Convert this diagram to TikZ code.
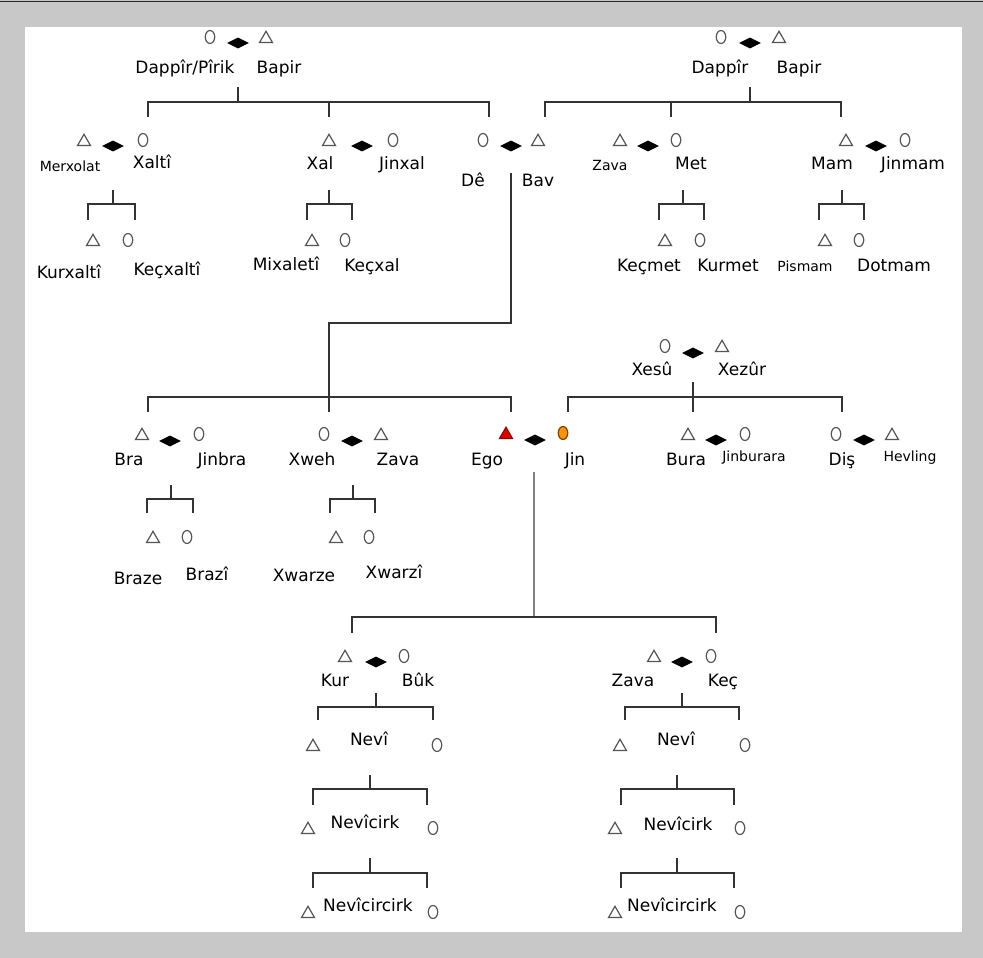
\documentclass[tikz,border=0pt]{standalone}
\usepackage{fontspec}
\setmainfont{DejaVu Sans}
\usetikzlibrary{shapes.geometric}
\definecolor{framegray}{HTML}{C8C8C8}
\definecolor{symgray}{HTML}{555555}
\definecolor{kingray}{HTML}{333333}
\tikzset{
  man/.style={regular polygon, regular polygon sides=3, draw=symgray, line width=1.2pt, minimum size=15pt, inner sep=0pt, yshift=-1.8pt},
  woman/.style={ellipse, draw=symgray, line width=1.2pt, minimum width=9.5pt, minimum height=13pt, inner sep=0pt},
  wed/.style={diamond, fill=black, minimum width=22pt, minimum height=11pt, inner sep=0pt},
  lbl/.style={inner sep=0pt, text height=1.5ex, text depth=.25ex, font=\fontsize{17}{19}\selectfont},
  lbls/.style={lbl, font=\fontsize{14}{16}\selectfont},
  kin/.style={draw=kingray, line width=1.3pt},
}
\begin{document}
\begin{tikzpicture}[x=1pt,y=-1pt]
            \useasboundingbox (0,0) rectangle (983,958);
            \fill[framegray] (0,0) rectangle (983,958);
            \fill[white] (25,27) rectangle (962,932);
            \draw[black!85, line width=1.5pt] (0,1.5) -- (983,1.5);

            % grandparents, left
            \node[woman] (dapL) at (210,37) {};
            \node[wed] (wedL) at (238,43) {};
            \node[man] (bapL) at (266,37) {};
            \node[lbl] (dapLt) at (185,70) {Dappîr/Pîrik};
            \node[lbl] (bapLt) at (279,70) {Bapir};
            \coordinate (tL) at (238,87); \coordinate (bL) at (238,102);
            \coordinate (dL1) at (148,117); \coordinate (dL2) at (329,117); \coordinate (dL3) at (489,117);
            \draw[kin] (tL) -- (bL);
            \draw[kin] (dL1) |- (bL) -| (dL3);
            \draw[kin] (dL2) -- (dL2 |- bL);

            % grandparents, right
            \node[woman] (dapR) at (721,37) {};
            \node[wed] (wedR) at (750,43) {};
            \node[man] (bapR) at (779,37) {};
            \node[lbl] (dapRt) at (720,70) {Dappîr};
            \node[lbl] (bapRt) at (799,70) {Bapir};
            \coordinate (tR) at (750,87); \coordinate (bR) at (750,102);
            \coordinate (dR1) at (545,117); \coordinate (dR2) at (671,117); \coordinate (dR3) at (841,117);
            \draw[kin] (tR) -- (bR);
            \draw[kin] (dR1) |- (bR) -| (dR3);
            \draw[kin] (dR2) -- (dR2 |- bR);

            % Merxolat and Xaltî
            \node[man] (merx) at (84,140) {};
            \node[wed] (wedMx) at (113,146) {};
            \node[woman] (xalti) at (143,140) {};
            \node[lbls] (merxt) at (70,168) {Merxolat};
            \node[lbl] (xaltit) at (152,165) {Xaltî};
            \coordinate (tMx) at (113,190); \coordinate (bMx) at (113,204);
            \coordinate (dMx1) at (88,220); \coordinate (dMx2) at (135,220);
            \draw[kin] (tMx) -- (bMx);
            \draw[kin] (dMx1) |- (bMx) -| (dMx2);
            \node[man] (kurx) at (93,240) {};
            \node[woman] (kecx) at (128,240) {};
            \node[lbl] (kurxt) at (69,275) {Kurxaltî};
            \node[lbl] (kecxt) at (167,272) {Keçxaltî};

            % Xal and Jinxal
            \node[man] (xal) at (329,140) {};
            \node[wed] (wedXl) at (362,146) {};
            \node[woman] (jinxal) at (393,140) {};
            \node[lbl] (xalt) at (320,166) {Xal};
            \node[lbl] (jinxalt) at (402,166) {Jinxal};
            \coordinate (tXl) at (329,190); \coordinate (bXl) at (329,204);
            \coordinate (dXl1) at (307,220); \coordinate (dXl2) at (352,220);
            \draw[kin] (tXl) -- (bXl);
            \draw[kin] (dXl1) |- (bXl) -| (dXl2);
            \node[man] (mixal) at (312,240) {};
            \node[woman] (kecxal) at (345,240) {};
            \node[lbl] (mixalt) at (286,267) {Mixaletî};
            \node[lbl] (kecxalt) at (372,268) {Keçxal};

            % Dê and Bav
            \node[woman] (de) at (483,140) {};
            \node[wed] (wedDB) at (511,146) {};
            \node[man] (bav) at (538,140) {};
            \node[lbl] (det) at (473,183) {Dê};
            \node[lbl] (bavt) at (538,183) {Bav};

            % Zava and Met
            \node[man] (zavaM) at (620,140) {};
            \node[wed] (wedMt) at (648,146) {};
            \node[woman] (met) at (676,140) {};
            \node[lbls] (zavaMt) at (610,167) {Zava};
            \node[lbl] (mett) at (691,166) {Met};
            \coordinate (tMt) at (683,190); \coordinate (bMt) at (683,204);
            \coordinate (dMt1) at (659,220); \coordinate (dMt2) at (704,220);
            \draw[kin] (tMt) -- (bMt);
            \draw[kin] (dMt1) |- (bMt) -| (dMt2);
            \node[man] (kecm) at (665,240) {};
            \node[woman] (kurm) at (700,240) {};
            \node[lbl] (kecmt) at (649,268) {Keçmet};
            \node[lbl] (kurmt) at (728,268) {Kurmet};

            % Mam and Jinmam
            \node[man] (mam) at (846,140) {};
            \node[wed] (wedMm) at (876,146) {};
            \node[woman] (jinmam) at (905,140) {};
            \node[lbl] (mamt) at (832,166) {Mam};
            \node[lbl] (jinmamt) at (913,166) {Jinmam};
            \coordinate (tMm) at (842,190); \coordinate (bMm) at (842,204);
            \coordinate (dMm1) at (819,220); \coordinate (dMm2) at (864,220);
            \draw[kin] (tMm) -- (bMm);
            \draw[kin] (dMm1) |- (bMm) -| (dMm2);
            \node[man] (pism) at (825,240) {};
            \node[woman] (dotm) at (859,240) {};
            \node[lbls] (pismt) at (805,268) {Pismam};
            \node[lbl] (dotmt) at (894,268) {Dotmam};

            % Xesû and Xezûr
            \node[woman] (xesu) at (665,346) {};
            \node[wed] (wedXs) at (693,353) {};
            \node[man] (xezur) at (722,346) {};
            \node[lbl] (xesut) at (652,372) {Xesû};
            \node[lbl] (xezurt) at (742,372) {Xezûr};
            \coordinate (tXs) at (693,382); \coordinate (bXs) at (693,397);
            \coordinate (dXs1) at (568,412); \coordinate (dXs2) at (693,412); \coordinate (dXs3) at (842,412);
            \draw[kin] (tXs) -- (dXs2);
            \draw[kin] (dXs1) |- (bXs) -| (dXs3);

            % children of Dê and Bav
            \coordinate (tDB) at (511,173); \coordinate (kDB) at (329,323); \coordinate (bDB) at (329,397);
            \coordinate (dDB1) at (148,412); \coordinate (dDB2) at (329,412); \coordinate (dDB3) at (511,412);
            \draw[kin] (tDB) |- (kDB) -- (dDB2);
            \draw[kin] (dDB1) |- (bDB) -| (dDB3);

            % Bra and Jinbra
            \node[man] (bra) at (142,434) {};
            \node[wed] (wedBr) at (170,441) {};
            \node[woman] (jinbra) at (199,434) {};
            \node[lbl] (brat) at (129,462) {Bra};
            \node[lbl] (jinbrat) at (222,462) {Jinbra};
            \coordinate (tBr) at (171,485); \coordinate (bBr) at (171,499);
            \coordinate (dBr1) at (147,513); \coordinate (dBr2) at (193,513);
            \draw[kin] (tBr) -- (bBr);
            \draw[kin] (dBr1) |- (bBr) -| (dBr2);
            \node[man] (braze) at (153,537) {};
            \node[woman] (brazi) at (187,537) {};
            \node[lbl] (brazet) at (138,581) {Braze};
            \node[lbl] (brazit) at (207,577) {Brazî};

            % Xweh and Zava
            \node[woman] (xweh) at (324,434) {};
            \node[wed] (wedXw) at (352,441) {};
            \node[man] (zavaX) at (381,434) {};
            \node[lbl] (xweht) at (312,462) {Xweh};
            \node[lbl] (zavaXt) at (398,462) {Zava};
            \coordinate (tXw) at (353,485); \coordinate (bXw) at (353,499);
            \coordinate (dXw1) at (330,513); \coordinate (dXw2) at (375,513);
            \draw[kin] (tXw) -- (bXw);
            \draw[kin] (dXw1) |- (bXw) -| (dXw2);
            \node[man] (xwarze) at (336,537) {};
            \node[woman] (xwarzi) at (369,537) {};
            \node[lbl] (xwarzet) at (304,578) {Xwarze};
            \node[lbl] (xwarzit) at (394,575) {Xwarzî};

            % Ego and Jin
            \node[man, draw=red!60!black, fill=red!90!black] (ego) at (506,433) {};
            \node[wed] (wedEg) at (535,440) {};
            \node[woman, draw=orange!50!black, fill=orange!85!yellow] (jin) at (563,433) {};
            \node[lbl] (egot) at (487,462) {Ego};
            \node[lbl] (jint) at (575,462) {Jin};
            \coordinate (tEg) at (534,472); \coordinate (bEg) at (534,617);
            \coordinate (dEg1) at (352,633); \coordinate (dEg2) at (716,633);
            \draw[kin, draw=gray] (tEg) -- (bEg);
            \draw[kin] (dEg1) |- (bEg) -| (dEg2);

            % Bura and Jinburara
            \node[man] (bura) at (688,434) {};
            \node[wed] (wedBu) at (716,440) {};
            \node[woman] (jinbu) at (745,434) {};
            \node[lbl] (burat) at (686,462) {Bura};
            \node[lbls] (jinbut) at (754,458) {Jinburara};

            % Diş and Hevling
            \node[woman] (dis) at (836,434) {};
            \node[wed] (wedDs) at (864,440) {};
            \node[man] (hevl) at (892,434) {};
            \node[lbl] (dist) at (842,462) {Diş};
            \node[lbls] (hevlt) at (910,458) {Hevling};

            % Kur and Bûk
            \node[man] (kur) at (345,656) {};
            \node[wed] (wedKr) at (376,662) {};
            \node[woman] (buk) at (404,656) {};
            \node[lbl] (kurt) at (335,683) {Kur};
            \node[lbl] (bukt) at (418,683) {Bûk};
            \coordinate (tKr) at (376,693); \coordinate (bKr) at (376,707);
            \coordinate (dKr1) at (318,720); \coordinate (dKr2) at (433,720);
            \draw[kin] (tKr) -- (bKr);
            \draw[kin] (dKr1) |- (bKr) -| (dKr2);
            \node[man] (nvL1) at (313,745) {};
            \node[lbl] (nvL1t) at (369,742) {Nevî};
            \node[woman] (nvL1o) at (437,745) {};
            \coordinate (tNL1) at (370,775); \coordinate (bNL1) at (370,789);
            \coordinate (dNL1a) at (313,805); \coordinate (dNL1b) at (427,805);
            \draw[kin] (tNL1) -- (bNL1);
            \draw[kin] (dNL1a) |- (bNL1) -| (dNL1b);
            \node[man] (nvL2) at (308,828) {};
            \node[lbl] (nvL2t) at (365,825) {Nevîcirk};
            \node[woman] (nvL2o) at (433,828) {};
            \coordinate (tNL2) at (370,858); \coordinate (bNL2) at (370,873);
            \coordinate (dNL2a) at (313,888); \coordinate (dNL2b) at (427,888);
            \draw[kin] (tNL2) -- (bNL2);
            \draw[kin] (dNL2a) |- (bNL2) -| (dNL2b);
            \node[man] (nvL3) at (308,912) {};
            \node[lbl] (nvL3t) at (368,908) {Nevîcircirk};
            \node[woman] (nvL3o) at (433,912) {};

            % Zava and Keç
            \node[man] (zavaK) at (654,656) {};
            \node[wed] (wedKc) at (682,662) {};
            \node[woman] (kec) at (711,656) {};
            \node[lbl] (zavaKt) at (633,683) {Zava};
            \node[lbl] (kect) at (723,683) {Keç};
            \coordinate (tKc) at (682,693); \coordinate (bKc) at (682,707);
            \coordinate (dKc1) at (625,720); \coordinate (dKc2) at (739,720);
            \draw[kin] (tKc) -- (bKc);
            \draw[kin] (dKc1) |- (bKc) -| (dKc2);
            \node[man] (nvR1) at (620,745) {};
            \node[lbl] (nvR1t) at (676,742) {Nevî};
            \node[woman] (nvR1o) at (745,745) {};
            \coordinate (tNR1) at (677,775); \coordinate (bNR1) at (677,789);
            \coordinate (dNR1a) at (621,805); \coordinate (dNR1b) at (734,805);
            \draw[kin] (tNR1) -- (bNR1);
            \draw[kin] (dNR1a) |- (bNR1) -| (dNR1b);
            \node[man] (nvR2) at (615,828) {};
            \node[lbl] (nvR2t) at (678,827) {Nevîcirk};
            \node[woman] (nvR2o) at (740,828) {};
            \coordinate (tNR2) at (677,858); \coordinate (bNR2) at (677,873);
            \coordinate (dNR2a) at (621,888); \coordinate (dNR2b) at (734,888);
            \draw[kin] (tNR2) -- (bNR2);
            \draw[kin] (dNR2a) |- (bNR2) -| (dNR2b);
            \node[man] (nvR3) at (615,912) {};
            \node[lbl] (nvR3t) at (672,908) {Nevîcircirk};
            \node[woman] (nvR3o) at (740,912) {};
\end{tikzpicture}
\end{document}
